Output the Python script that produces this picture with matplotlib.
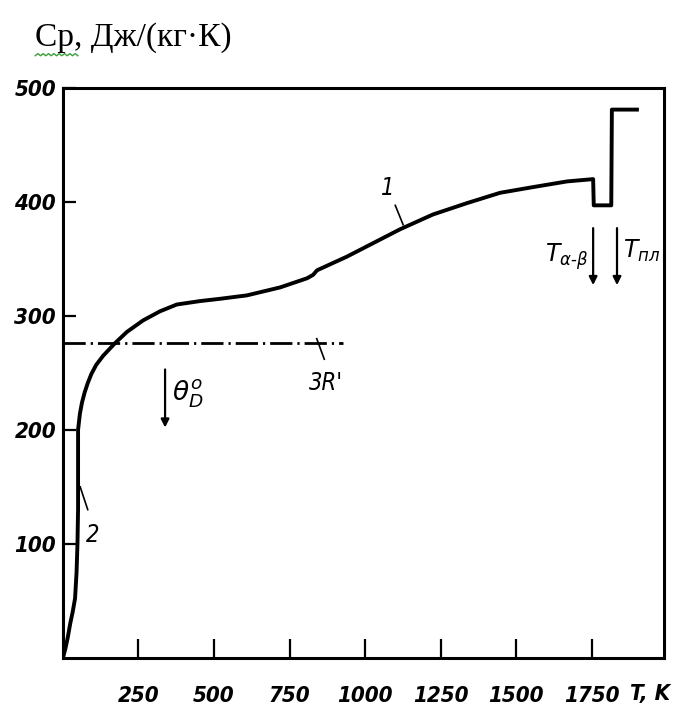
import matplotlib
matplotlib.use("Agg")
import matplotlib.pyplot as plt
import numpy as np

# curve 1 (with low-T part 2), T in K, Cp in J/(kg K)
T = [0, 8, 16, 24, 32, 40, 45, 48, 50, 50, 50, 50, 56, 63, 72, 82, 94, 110, 133,
     172, 212, 265, 321, 377, 454, 520, 609, 719, 808, 828, 841, 940, 1006, 1116,
     1225, 1338, 1447, 1556, 1669, 1755, 1757, 1815, 1817, 1900]
Cp = [0, 8, 18, 30, 40, 52, 75, 100, 130, 160, 182, 200, 214, 224, 233, 241, 249,
      257, 265, 276, 286, 296, 304, 310, 313, 315, 318, 325, 333, 336, 340, 352,
      361, 376, 389, 399, 408, 413, 418, 420, 397, 397, 481, 481]

# 3R' classical level
R3_level = 276
R3_T = [0, 927]

# arrows: Debye temperature, alpha-beta transition, melting
arrow_T = [338, 1755, 1834]
arrow_top = [253, 377, 377]
arrow_bot = [202, 327, 327]

xticks = [250, 500, 750, 1000, 1250, 1500, 1750]
yticks = [100, 200, 300, 400, 500]

tick_font = dict(family="DejaVu Sans", style="italic", stretch="condensed",
                 weight="bold", size=16)

fig = plt.figure(figsize=(6.77, 7.15), dpi=100)
ax = fig.add_axes([0.093, 0.080, 0.888, 0.797])

ax.plot(T, Cp, color="black", lw=2.8, solid_joinstyle="round")
ax.plot(R3_T, [R3_level, R3_level], color="black", lw=2.0,
        dashes=(8, 1.8, 0.8, 1.8))

for t, y0, y1 in zip(arrow_T, arrow_top, arrow_bot):
    ax.annotate("", xy=(t, y1), xytext=(t, y0),
                arrowprops=dict(arrowstyle="-|>", color="black", lw=1.6,
                                mutation_scale=12, shrinkA=0, shrinkB=0))

ax.set_xlim(0, 1990)
ax.set_ylim(0, 500)
ax.set_xticks(xticks)
ax.set_xticklabels([str(v) for v in xticks], fontdict=tick_font)
ax.set_yticks(yticks)
ax.set_yticklabels([str(v) for v in yticks], fontdict=tick_font)
ax.tick_params(axis="x", direction="in", length=14, width=1.6, pad=20)
ax.tick_params(axis="y", direction="in", length=9, width=1.6, pad=5)
for s in ax.spines.values():
    s.set_linewidth(2.2)

lab_font = dict(family="DejaVu Sans", style="italic", stretch="condensed", size=17)
ax.text(1945, -32, "T, K", ha="center", va="center", fontdict=tick_font)
ax.text(1076, 412, "1", ha="center", va="center", fontdict=lab_font)
ax.plot([1100, 1126], [397, 380], color="black", lw=1.2)
ax.text(100, 108, "2", ha="center", va="center", fontdict=lab_font)
ax.plot([57, 82], [150, 130], color="black", lw=1.2)
ax.text(1740, 352, r"$T_{\alpha\text{-}\beta}$", ha="right", va="center", fontsize=17)
ax.text(1855, 357, r"$T_{пл}$", ha="left", va="center", fontsize=17,
        family="DejaVu Sans", style="italic")
ax.text(360, 232, r"$\theta_D^o$", ha="left", va="center", fontsize=19)
ax.text(870, 241, "3R'", ha="center", va="center", fontdict=lab_font)
ax.plot([840, 865], [280, 262], color="black", lw=1.2)

fig.text(0.052, 0.948, "Ср, Дж/(кг·К)", family="Liberation Serif", fontsize=24,
         ha="left", va="center")
# green spell-check squiggle under "Ср"
sx = np.linspace(0.052, 0.115, 17)
sy = 0.922 + 0.003 * (np.arange(17) % 2)
fig.lines.append(plt.Line2D(sx, sy, transform=fig.transFigure, color="#3aa03a", lw=1))

fig.savefig("out.png", dpi=100)
